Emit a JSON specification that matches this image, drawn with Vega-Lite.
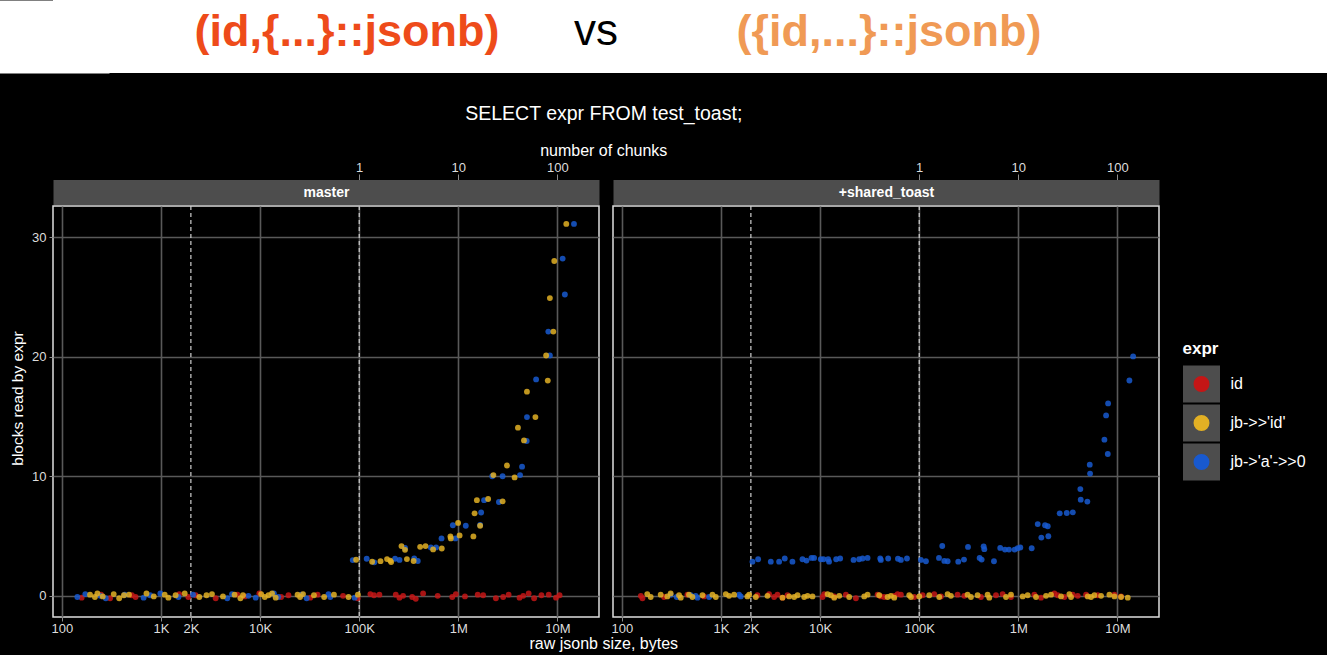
{
  "$schema": "https://vega.github.io/schema/vega-lite/v6.json",
  "background": "black",
  "padding": {"left": 9, "top": 0, "right": 10, "bottom": 10},
  "config": {
    "font": "Liberation Sans",
    "view": {"stroke": "#dedede", "strokeWidth": 1.5},
    "axis": {"labelColor": "#dddddd", "titleColor": "white", "labelFontSize": 13, "titleFontWeight": "normal", "titleFontSize": 16, "gridColor": "#595959", "gridWidth": 1.6, "tickColor": "#8c8c8c", "domain": false}
  },
  "datasets": {
    "pts": [
      {"panel":"master","expr":"id","bytes":158,"blocks":-0.15},{"panel":"master","expr":"id","bytes":248,"blocks":0.1},{"panel":"master","expr":"id","bytes":306,"blocks":-0.2},{"panel":"master","expr":"id","bytes":508,"blocks":0.05},{"panel":"master","expr":"id","bytes":553,"blocks":-0.1},{"panel":"master","expr":"id","bytes":1527,"blocks":0.15},{"panel":"master","expr":"id","bytes":1887,"blocks":-0.1},{"panel":"master","expr":"id","bytes":2236,"blocks":0.05},{"panel":"master","expr":"id","bytes":3559,"blocks":-0.2},{"panel":"master","expr":"id","bytes":5906,"blocks":0.1},{"panel":"master","expr":"id","bytes":6998,"blocks":-0.05},{"panel":"master","expr":"id","bytes":9817,"blocks":0.2},{"panel":"master","expr":"id","bytes":16300,"blocks":-0.1},{"panel":"master","expr":"id","bytes":19320,"blocks":0.05},{"panel":"master","expr":"id","bytes":32060,"blocks":-0.15},{"panel":"master","expr":"id","bytes":38020,"blocks":0.1},{"panel":"master","expr":"id","bytes":68700,"blocks":0.0},{"panel":"master","expr":"id","bytes":96400,"blocks":-0.2},{"panel":"master","expr":"id","bytes":129500,"blocks":0.15},{"panel":"master","expr":"id","bytes":140900,"blocks":0.05},{"panel":"master","expr":"id","bytes":159900,"blocks":0.1},{"panel":"master","expr":"id","bytes":233900,"blocks":0.1},{"panel":"master","expr":"id","bytes":254600,"blocks":-0.15},{"panel":"master","expr":"id","bytes":277300,"blocks":0.0},{"panel":"master","expr":"id","bytes":342600,"blocks":-0.1},{"panel":"master","expr":"id","bytes":372400,"blocks":-0.25},{"panel":"master","expr":"id","bytes":441300,"blocks":0.2},{"panel":"master","expr":"id","bytes":619400,"blocks":0.0},{"panel":"master","expr":"id","bytes":868800,"blocks":-0.1},{"panel":"master","expr":"id","bytes":944800,"blocks":0.15},{"panel":"master","expr":"id","bytes":1167000,"blocks":-0.05},{"panel":"master","expr":"id","bytes":1570000,"blocks":0.1},{"panel":"master","expr":"id","bytes":1782000,"blocks":0.05},{"panel":"master","expr":"id","bytes":2395000,"blocks":-0.2},{"panel":"master","expr":"id","bytes":2836000,"blocks":-0.1},{"panel":"master","expr":"id","bytes":3221000,"blocks":0.1},{"panel":"master","expr":"id","bytes":4150000,"blocks":-0.15},{"panel":"master","expr":"id","bytes":4519000,"blocks":0.0},{"panel":"master","expr":"id","bytes":5129000,"blocks":0.2},{"panel":"master","expr":"id","bytes":5823000,"blocks":-0.2},{"panel":"master","expr":"id","bytes":6902000,"blocks":0.05},{"panel":"master","expr":"id","bytes":8170000,"blocks":0.1},{"panel":"master","expr":"id","bytes":9683000,"blocks":-0.15},{"panel":"master","expr":"id","bytes":10520000,"blocks":0.05},
      {"panel":"+shared_toast","expr":"id","bytes":155,"blocks":0.0},{"panel":"+shared_toast","expr":"id","bytes":161,"blocks":-0.2},{"panel":"+shared_toast","expr":"id","bytes":266,"blocks":-0.1},{"panel":"+shared_toast","expr":"id","bytes":458,"blocks":0.1},{"panel":"+shared_toast","expr":"id","bytes":674,"blocks":-0.05},{"panel":"+shared_toast","expr":"id","bytes":2328,"blocks":0.05},{"panel":"+shared_toast","expr":"id","bytes":3055,"blocks":0.15},{"panel":"+shared_toast","expr":"id","bytes":3433,"blocks":-0.1},{"panel":"+shared_toast","expr":"id","bytes":3710,"blocks":0.1},{"panel":"+shared_toast","expr":"id","bytes":4169,"blocks":-0.15},{"panel":"+shared_toast","expr":"id","bytes":4688,"blocks":0.05},{"panel":"+shared_toast","expr":"id","bytes":10570,"blocks":-0.1},{"panel":"+shared_toast","expr":"id","bytes":10990,"blocks":0.15},{"panel":"+shared_toast","expr":"id","bytes":13870,"blocks":-0.05},{"panel":"+shared_toast","expr":"id","bytes":18200,"blocks":0.1},{"panel":"+shared_toast","expr":"id","bytes":22960,"blocks":-0.2},{"panel":"+shared_toast","expr":"id","bytes":38010,"blocks":0.1},{"panel":"+shared_toast","expr":"id","bytes":41020,"blocks":-0.05},{"panel":"+shared_toast","expr":"id","bytes":44370,"blocks":-0.1},{"panel":"+shared_toast","expr":"id","bytes":55980,"blocks":0.0},{"panel":"+shared_toast","expr":"id","bytes":60480,"blocks":0.15},{"panel":"+shared_toast","expr":"id","bytes":65350,"blocks":0.1},{"panel":"+shared_toast","expr":"id","bytes":89100,"blocks":-0.1},{"panel":"+shared_toast","expr":"id","bytes":108100,"blocks":0.05},{"panel":"+shared_toast","expr":"id","bytes":141800,"blocks":0.15},{"panel":"+shared_toast","expr":"id","bytes":165600,"blocks":-0.05},{"panel":"+shared_toast","expr":"id","bytes":243900,"blocks":0.1},{"panel":"+shared_toast","expr":"id","bytes":285000,"blocks":0.0},{"panel":"+shared_toast","expr":"id","bytes":419900,"blocks":-0.1},{"panel":"+shared_toast","expr":"id","bytes":595500,"blocks":0.05},{"panel":"+shared_toast","expr":"id","bytes":695000,"blocks":0.15},{"panel":"+shared_toast","expr":"id","bytes":843700,"blocks":-0.1},{"panel":"+shared_toast","expr":"id","bytes":1452000,"blocks":0.1},{"panel":"+shared_toast","expr":"id","bytes":1694000,"blocks":-0.15},{"panel":"+shared_toast","expr":"id","bytes":2312000,"blocks":0.2},{"panel":"+shared_toast","expr":"id","bytes":2499000,"blocks":0.05},{"panel":"+shared_toast","expr":"id","bytes":2917000,"blocks":-0.1},{"panel":"+shared_toast","expr":"id","bytes":3541000,"blocks":0.1},{"panel":"+shared_toast","expr":"id","bytes":3981000,"blocks":0.0},{"panel":"+shared_toast","expr":"id","bytes":4831000,"blocks":0.1},{"panel":"+shared_toast","expr":"id","bytes":6339000,"blocks":0.05},{"panel":"+shared_toast","expr":"id","bytes":9333000,"blocks":0.1},{"panel":"+shared_toast","expr":"id","bytes":10890000,"blocks":-0.05},
      {"panel":"master","expr":"jb->'a'->>0","bytes":143,"blocks":-0.1},{"panel":"master","expr":"jb->'a'->>0","bytes":172,"blocks":0.15},{"panel":"master","expr":"jb->'a'->>0","bytes":244,"blocks":0.0},{"panel":"master","expr":"jb->'a'->>0","bytes":277,"blocks":-0.2},{"panel":"master","expr":"jb->'a'->>0","bytes":430,"blocks":0.1},{"panel":"master","expr":"jb->'a'->>0","bytes":667,"blocks":-0.15},{"panel":"master","expr":"jb->'a'->>0","bytes":776,"blocks":0.05},{"panel":"master","expr":"jb->'a'->>0","bytes":984,"blocks":0.2},{"panel":"master","expr":"jb->'a'->>0","bytes":1500,"blocks":-0.1},{"panel":"master","expr":"jb->'a'->>0","bytes":2104,"blocks":0.1},{"panel":"master","expr":"jb->'a'->>0","bytes":4660,"blocks":-0.2},{"panel":"master","expr":"jb->'a'->>0","bytes":5200,"blocks":0.15},{"panel":"master","expr":"jb->'a'->>0","bytes":7620,"blocks":0.0},{"panel":"master","expr":"jb->'a'->>0","bytes":9020,"blocks":-0.15},{"panel":"master","expr":"jb->'a'->>0","bytes":13770,"blocks":0.2},{"panel":"master","expr":"jb->'a'->>0","bytes":15240,"blocks":-0.1},{"panel":"master","expr":"jb->'a'->>0","bytes":25960,"blocks":0.1},{"panel":"master","expr":"jb->'a'->>0","bytes":29470,"blocks":-0.2},{"panel":"master","expr":"jb->'a'->>0","bytes":48970,"blocks":0.15},{"panel":"master","expr":"jb->'a'->>0","bytes":51050,"blocks":-0.1},{"panel":"master","expr":"jb->'a'->>0","bytes":89950,"blocks":-0.15},
      {"panel":"master","expr":"jb->'a'->>0","bytes":86000,"blocks":2.99},{"panel":"master","expr":"jb->'a'->>0","bytes":119000,"blocks":3.1},{"panel":"master","expr":"jb->'a'->>0","bytes":142000,"blocks":2.8},{"panel":"master","expr":"jb->'a'->>0","bytes":230000,"blocks":3.1},{"panel":"master","expr":"jb->'a'->>0","bytes":255000,"blocks":3.0},{"panel":"master","expr":"jb->'a'->>0","bytes":290000,"blocks":4.0},{"panel":"master","expr":"jb->'a'->>0","bytes":359000,"blocks":3.13},{"panel":"master","expr":"jb->'a'->>0","bytes":390000,"blocks":2.91},{"panel":"master","expr":"jb->'a'->>0","bytes":528000,"blocks":4.05},{"panel":"master","expr":"jb->'a'->>0","bytes":597000,"blocks":4.05},{"panel":"master","expr":"jb->'a'->>0","bytes":677000,"blocks":4.8},{"panel":"master","expr":"jb->'a'->>0","bytes":881000,"blocks":5.9},{"panel":"master","expr":"jb->'a'->>0","bytes":935000,"blocks":4.8},{"panel":"master","expr":"jb->'a'->>0","bytes":1190000,"blocks":5.86},{"panel":"master","expr":"jb->'a'->>0","bytes":1660000,"blocks":5.93},{"panel":"master","expr":"jb->'a'->>0","bytes":1700000,"blocks":6.97},{"panel":"master","expr":"jb->'a'->>0","bytes":1820000,"blocks":8.0},{"panel":"master","expr":"jb->'a'->>0","bytes":2200000,"blocks":10.0},{"panel":"master","expr":"jb->'a'->>0","bytes":2570000,"blocks":7.85},{"panel":"master","expr":"jb->'a'->>0","bytes":2800000,"blocks":10.0},{"panel":"master","expr":"jb->'a'->>0","bytes":4200000,"blocks":10.1},{"panel":"master","expr":"jb->'a'->>0","bytes":4400000,"blocks":10.8},{"panel":"master","expr":"jb->'a'->>0","bytes":4900000,"blocks":12.95},{"panel":"master","expr":"jb->'a'->>0","bytes":4930000,"blocks":14.95},{"panel":"master","expr":"jb->'a'->>0","bytes":6100000,"blocks":18.1},{"panel":"master","expr":"jb->'a'->>0","bytes":8100000,"blocks":22.1},{"panel":"master","expr":"jb->'a'->>0","bytes":8400000,"blocks":20.1},{"panel":"master","expr":"jb->'a'->>0","bytes":11300000,"blocks":28.2},{"panel":"master","expr":"jb->'a'->>0","bytes":11900000,"blocks":25.2},{"panel":"master","expr":"jb->'a'->>0","bytes":14700000,"blocks":31.1},
      {"panel":"+shared_toast","expr":"jb->'a'->>0","bytes":310,"blocks":0.1},{"panel":"+shared_toast","expr":"jb->'a'->>0","bytes":357,"blocks":-0.1},{"panel":"+shared_toast","expr":"jb->'a'->>0","bytes":494,"blocks":0.05},{"panel":"+shared_toast","expr":"jb->'a'->>0","bytes":555,"blocks":0.0},{"panel":"+shared_toast","expr":"jb->'a'->>0","bytes":578,"blocks":-0.15},{"panel":"+shared_toast","expr":"jb->'a'->>0","bytes":757,"blocks":-0.1},{"panel":"+shared_toast","expr":"jb->'a'->>0","bytes":1520,"blocks":0.1},{"panel":"+shared_toast","expr":"jb->'a'->>0","bytes":1580,"blocks":-0.05},
      {"panel":"+shared_toast","expr":"jb->'a'->>0","bytes":2075,"blocks":2.86},{"panel":"+shared_toast","expr":"jb->'a'->>0","bytes":2366,"blocks":3.06},{"panel":"+shared_toast","expr":"jb->'a'->>0","bytes":3177,"blocks":2.86},{"panel":"+shared_toast","expr":"jb->'a'->>0","bytes":3855,"blocks":2.86},{"panel":"+shared_toast","expr":"jb->'a'->>0","bytes":4395,"blocks":3.12},{"panel":"+shared_toast","expr":"jb->'a'->>0","bytes":5255,"blocks":2.86},{"panel":"+shared_toast","expr":"jb->'a'->>0","bytes":6637,"blocks":3.06},{"panel":"+shared_toast","expr":"jb->'a'->>0","bytes":7280,"blocks":2.95},{"panel":"+shared_toast","expr":"jb->'a'->>0","bytes":8180,"blocks":3.17},{"panel":"+shared_toast","expr":"jb->'a'->>0","bytes":8690,"blocks":3.17},{"panel":"+shared_toast","expr":"jb->'a'->>0","bytes":10160,"blocks":3.06},{"panel":"+shared_toast","expr":"jb->'a'->>0","bytes":10810,"blocks":3.06},{"panel":"+shared_toast","expr":"jb->'a'->>0","bytes":12050,"blocks":3.06},{"panel":"+shared_toast","expr":"jb->'a'->>0","bytes":12300,"blocks":2.86},{"panel":"+shared_toast","expr":"jb->'a'->>0","bytes":14520,"blocks":3.06},{"panel":"+shared_toast","expr":"jb->'a'->>0","bytes":15930,"blocks":3.12},{"panel":"+shared_toast","expr":"jb->'a'->>0","bytes":21740,"blocks":3.0},{"panel":"+shared_toast","expr":"jb->'a'->>0","bytes":24770,"blocks":3.06},{"panel":"+shared_toast","expr":"jb->'a'->>0","bytes":26790,"blocks":3.12},{"panel":"+shared_toast","expr":"jb->'a'->>0","bytes":30110,"blocks":3.17},{"panel":"+shared_toast","expr":"jb->'a'->>0","bytes":40400,"blocks":3.12},{"panel":"+shared_toast","expr":"jb->'a'->>0","bytes":41000,"blocks":3.0},{"panel":"+shared_toast","expr":"jb->'a'->>0","bytes":48600,"blocks":3.12},{"panel":"+shared_toast","expr":"jb->'a'->>0","bytes":61000,"blocks":3.1},{"panel":"+shared_toast","expr":"jb->'a'->>0","bytes":65300,"blocks":3.0},{"panel":"+shared_toast","expr":"jb->'a'->>0","bytes":75200,"blocks":3.12},{"panel":"+shared_toast","expr":"jb->'a'->>0","bytes":104000,"blocks":3.0},{"panel":"+shared_toast","expr":"jb->'a'->>0","bytes":116900,"blocks":2.89},{"panel":"+shared_toast","expr":"jb->'a'->>0","bytes":158200,"blocks":3.17},{"panel":"+shared_toast","expr":"jb->'a'->>0","bytes":170800,"blocks":4.17},{"panel":"+shared_toast","expr":"jb->'a'->>0","bytes":179000,"blocks":2.92},{"panel":"+shared_toast","expr":"jb->'a'->>0","bytes":193600,"blocks":2.89},{"panel":"+shared_toast","expr":"jb->'a'->>0","bytes":247700,"blocks":2.86},{"panel":"+shared_toast","expr":"jb->'a'->>0","bytes":283100,"blocks":3.03},{"panel":"+shared_toast","expr":"jb->'a'->>0","bytes":310700,"blocks":4.09},{"panel":"+shared_toast","expr":"jb->'a'->>0","bytes":407000,"blocks":3.17},{"panel":"+shared_toast","expr":"jb->'a'->>0","bytes":426700,"blocks":3.03},{"panel":"+shared_toast","expr":"jb->'a'->>0","bytes":446900,"blocks":4.14},{"panel":"+shared_toast","expr":"jb->'a'->>0","bytes":453900,"blocks":3.9},{"panel":"+shared_toast","expr":"jb->'a'->>0","bytes":568000,"blocks":2.89},{"panel":"+shared_toast","expr":"jb->'a'->>0","bytes":657000,"blocks":4.01},{"panel":"+shared_toast","expr":"jb->'a'->>0","bytes":734000,"blocks":3.87},{"panel":"+shared_toast","expr":"jb->'a'->>0","bytes":805000,"blocks":3.87},{"panel":"+shared_toast","expr":"jb->'a'->>0","bytes":918000,"blocks":3.87},{"panel":"+shared_toast","expr":"jb->'a'->>0","bytes":986000,"blocks":3.98},{"panel":"+shared_toast","expr":"jb->'a'->>0","bytes":1048000,"blocks":4.04},{"panel":"+shared_toast","expr":"jb->'a'->>0","bytes":1365000,"blocks":3.98},{"panel":"+shared_toast","expr":"jb->'a'->>0","bytes":1570000,"blocks":6.0},{"panel":"+shared_toast","expr":"jb->'a'->>0","bytes":1708000,"blocks":4.87},{"panel":"+shared_toast","expr":"jb->'a'->>0","bytes":1862000,"blocks":5.9},{"panel":"+shared_toast","expr":"jb->'a'->>0","bytes":1982000,"blocks":5.82},{"panel":"+shared_toast","expr":"jb->'a'->>0","bytes":2010000,"blocks":4.98},{"panel":"+shared_toast","expr":"jb->'a'->>0","bytes":2618000,"blocks":6.9},{"panel":"+shared_toast","expr":"jb->'a'->>0","bytes":3083000,"blocks":6.93},{"panel":"+shared_toast","expr":"jb->'a'->>0","bytes":3548000,"blocks":6.98},{"panel":"+shared_toast","expr":"jb->'a'->>0","bytes":4228000,"blocks":8.93},{"panel":"+shared_toast","expr":"jb->'a'->>0","bytes":4266000,"blocks":8.04},{"panel":"+shared_toast","expr":"jb->'a'->>0","bytes":4976000,"blocks":7.88},{"panel":"+shared_toast","expr":"jb->'a'->>0","bytes":5260000,"blocks":10.97},{"panel":"+shared_toast","expr":"jb->'a'->>0","bytes":5300000,"blocks":10.22},{"panel":"+shared_toast","expr":"jb->'a'->>0","bytes":7396000,"blocks":13.06},{"panel":"+shared_toast","expr":"jb->'a'->>0","bytes":7690000,"blocks":15.09},{"panel":"+shared_toast","expr":"jb->'a'->>0","bytes":8000000,"blocks":11.86},{"panel":"+shared_toast","expr":"jb->'a'->>0","bytes":8060000,"blocks":16.09},{"panel":"+shared_toast","expr":"jb->'a'->>0","bytes":13220000,"blocks":18.01},{"panel":"+shared_toast","expr":"jb->'a'->>0","bytes":14420000,"blocks":20.02},
      {"panel":"master","expr":"jb->>'id'","bytes":192,"blocks":0.1},{"panel":"master","expr":"jb->>'id'","bytes":215,"blocks":-0.1},{"panel":"master","expr":"jb->>'id'","bytes":228,"blocks":0.2},{"panel":"master","expr":"jb->>'id'","bytes":258,"blocks":-0.05},{"panel":"master","expr":"jb->>'id'","bytes":333,"blocks":0.15},{"panel":"master","expr":"jb->>'id'","bytes":378,"blocks":-0.2},{"panel":"master","expr":"jb->>'id'","bytes":422,"blocks":0.05},{"panel":"master","expr":"jb->>'id'","bytes":475,"blocks":0.1},{"panel":"master","expr":"jb->>'id'","bytes":713,"blocks":0.2},{"panel":"master","expr":"jb->>'id'","bytes":845,"blocks":-0.05},{"panel":"master","expr":"jb->>'id'","bytes":1089,"blocks":0.1},{"panel":"master","expr":"jb->>'id'","bytes":1186,"blocks":-0.15},{"panel":"master","expr":"jb->>'id'","bytes":1403,"blocks":0.05},{"panel":"master","expr":"jb->>'id'","bytes":1734,"blocks":0.2},{"panel":"master","expr":"jb->>'id'","bytes":2432,"blocks":-0.1},{"panel":"master","expr":"jb->>'id'","bytes":2877,"blocks":0.05},{"panel":"master","expr":"jb->>'id'","bytes":3266,"blocks":0.15},{"panel":"master","expr":"jb->>'id'","bytes":4217,"blocks":-0.05},{"panel":"master","expr":"jb->>'id'","bytes":5521,"blocks":0.1},{"panel":"master","expr":"jb->>'id'","bytes":6324,"blocks":-0.2},{"panel":"master","expr":"jb->>'id'","bytes":6714,"blocks":0.05},{"panel":"master","expr":"jb->>'id'","bytes":10240,"blocks":0.15},{"panel":"master","expr":"jb->>'id'","bytes":11140,"blocks":-0.1},{"panel":"master","expr":"jb->>'id'","bytes":12130,"blocks":0.05},{"panel":"master","expr":"jb->>'id'","bytes":13190,"blocks":0.2},{"panel":"master","expr":"jb->>'id'","bytes":14360,"blocks":-0.15},{"panel":"master","expr":"jb->>'id'","bytes":23860,"blocks":0.1},{"panel":"master","expr":"jb->>'id'","bytes":25300,"blocks":-0.1},{"panel":"master","expr":"jb->>'id'","bytes":27100,"blocks":0.15},{"panel":"master","expr":"jb->>'id'","bytes":34910,"blocks":0.05},{"panel":"master","expr":"jb->>'id'","bytes":44260,"blocks":-0.1},{"panel":"master","expr":"jb->>'id'","bytes":55600,"blocks":0.1},{"panel":"master","expr":"jb->>'id'","bytes":77980,"blocks":-0.1},{"panel":"master","expr":"jb->>'id'","bytes":97000,"blocks":0.1},
      {"panel":"master","expr":"jb->>'id'","bytes":93000,"blocks":3.02},{"panel":"master","expr":"jb->>'id'","bytes":135000,"blocks":2.85},{"panel":"master","expr":"jb->>'id'","bytes":164000,"blocks":2.9},{"panel":"master","expr":"jb->>'id'","bytes":191000,"blocks":3.07},{"panel":"master","expr":"jb->>'id'","bytes":206000,"blocks":2.95},{"panel":"master","expr":"jb->>'id'","bytes":210000,"blocks":2.82},{"panel":"master","expr":"jb->>'id'","bytes":267000,"blocks":4.16},{"panel":"master","expr":"jb->>'id'","bytes":290000,"blocks":3.85},{"panel":"master","expr":"jb->>'id'","bytes":303000,"blocks":3.07},{"panel":"master","expr":"jb->>'id'","bytes":354000,"blocks":2.91},{"panel":"master","expr":"jb->>'id'","bytes":412000,"blocks":4.1},{"panel":"master","expr":"jb->>'id'","bytes":467000,"blocks":4.16},{"panel":"master","expr":"jb->>'id'","bytes":557000,"blocks":3.88},{"panel":"master","expr":"jb->>'id'","bytes":681000,"blocks":3.96},{"panel":"master","expr":"jb->>'id'","bytes":833000,"blocks":4.97},{"panel":"master","expr":"jb->>'id'","bytes":840000,"blocks":4.8},{"panel":"master","expr":"jb->>'id'","bytes":995000,"blocks":6.1},{"panel":"master","expr":"jb->>'id'","bytes":1030000,"blocks":5.05},{"panel":"master","expr":"jb->>'id'","bytes":1420000,"blocks":4.97},{"panel":"master","expr":"jb->>'id'","bytes":1460000,"blocks":6.9},{"panel":"master","expr":"jb->>'id'","bytes":1540000,"blocks":8.0},{"panel":"master","expr":"jb->>'id'","bytes":1660000,"blocks":5.86},{"panel":"master","expr":"jb->>'id'","bytes":2000000,"blocks":8.1},{"panel":"master","expr":"jb->>'id'","bytes":2260000,"blocks":10.1},{"panel":"master","expr":"jb->>'id'","bytes":2800000,"blocks":7.9},{"panel":"master","expr":"jb->>'id'","bytes":3100000,"blocks":10.9},{"panel":"master","expr":"jb->>'id'","bytes":3700000,"blocks":9.9},{"panel":"master","expr":"jb->>'id'","bytes":4000000,"blocks":14.06},{"panel":"master","expr":"jb->>'id'","bytes":4600000,"blocks":13.0},{"panel":"master","expr":"jb->>'id'","bytes":4930000,"blocks":17.07},{"panel":"master","expr":"jb->>'id'","bytes":6000000,"blocks":14.95},{"panel":"master","expr":"jb->>'id'","bytes":7700000,"blocks":20.1},{"panel":"master","expr":"jb->>'id'","bytes":8000000,"blocks":18.0},{"panel":"master","expr":"jb->>'id'","bytes":8400000,"blocks":24.9},{"panel":"master","expr":"jb->>'id'","bytes":9100000,"blocks":22.1},{"panel":"master","expr":"jb->>'id'","bytes":9300000,"blocks":28.0},{"panel":"master","expr":"jb->>'id'","bytes":12300000,"blocks":31.1},
      {"panel":"+shared_toast","expr":"jb->>'id'","bytes":180,"blocks":0.15},{"panel":"+shared_toast","expr":"jb->>'id'","bytes":195,"blocks":-0.1},{"panel":"+shared_toast","expr":"jb->>'id'","bytes":246,"blocks":0.1},{"panel":"+shared_toast","expr":"jb->>'id'","bytes":287,"blocks":-0.05},{"panel":"+shared_toast","expr":"jb->>'id'","bytes":310,"blocks":0.2},{"panel":"+shared_toast","expr":"jb->>'id'","bytes":377,"blocks":0.05},{"panel":"+shared_toast","expr":"jb->>'id'","bytes":392,"blocks":-0.15},{"panel":"+shared_toast","expr":"jb->>'id'","bytes":475,"blocks":0.1},{"panel":"+shared_toast","expr":"jb->>'id'","bytes":514,"blocks":-0.1},{"panel":"+shared_toast","expr":"jb->>'id'","bytes":649,"blocks":0.05},{"panel":"+shared_toast","expr":"jb->>'id'","bytes":819,"blocks":0.1},{"panel":"+shared_toast","expr":"jb->>'id'","bytes":885,"blocks":-0.1},{"panel":"+shared_toast","expr":"jb->>'id'","bytes":1117,"blocks":0.15},{"panel":"+shared_toast","expr":"jb->>'id'","bytes":1206,"blocks":0.0},{"panel":"+shared_toast","expr":"jb->>'id'","bytes":1355,"blocks":0.1},{"panel":"+shared_toast","expr":"jb->>'id'","bytes":1847,"blocks":-0.05},{"panel":"+shared_toast","expr":"jb->>'id'","bytes":1919,"blocks":0.1},{"panel":"+shared_toast","expr":"jb->>'id'","bytes":2244,"blocks":-0.1},{"panel":"+shared_toast","expr":"jb->>'id'","bytes":2941,"blocks":0.0},{"panel":"+shared_toast","expr":"jb->>'id'","bytes":4169,"blocks":-0.15},{"panel":"+shared_toast","expr":"jb->>'id'","bytes":4868,"blocks":-0.05},{"panel":"+shared_toast","expr":"jb->>'id'","bytes":5470,"blocks":-0.1},{"panel":"+shared_toast","expr":"jb->>'id'","bytes":5916,"blocks":0.05},{"panel":"+shared_toast","expr":"jb->>'id'","bytes":6906,"blocks":-0.1},{"panel":"+shared_toast","expr":"jb->>'id'","bytes":7467,"blocks":0.0},{"panel":"+shared_toast","expr":"jb->>'id'","bytes":8380,"blocks":-0.05},{"panel":"+shared_toast","expr":"jb->>'id'","bytes":11880,"blocks":0.15},{"panel":"+shared_toast","expr":"jb->>'id'","bytes":12830,"blocks":0.05},{"panel":"+shared_toast","expr":"jb->>'id'","bytes":13870,"blocks":-0.15},{"panel":"+shared_toast","expr":"jb->>'id'","bytes":15590,"blocks":0.0},{"panel":"+shared_toast","expr":"jb->>'id'","bytes":19650,"blocks":-0.1},{"panel":"+shared_toast","expr":"jb->>'id'","bytes":27860,"blocks":-0.05},{"panel":"+shared_toast","expr":"jb->>'id'","bytes":30130,"blocks":0.1},{"panel":"+shared_toast","expr":"jb->>'id'","bytes":39460,"blocks":0.05},{"panel":"+shared_toast","expr":"jb->>'id'","bytes":47940,"blocks":-0.1},{"panel":"+shared_toast","expr":"jb->>'id'","bytes":51790,"blocks":0.0},{"panel":"+shared_toast","expr":"jb->>'id'","bytes":55960,"blocks":-0.15},{"panel":"+shared_toast","expr":"jb->>'id'","bytes":79290,"blocks":0.05},{"panel":"+shared_toast","expr":"jb->>'id'","bytes":82450,"blocks":-0.1},{"panel":"+shared_toast","expr":"jb->>'id'","bytes":100100,"blocks":-0.05},{"panel":"+shared_toast","expr":"jb->>'id'","bytes":126200,"blocks":0.05},{"panel":"+shared_toast","expr":"jb->>'id'","bytes":159300,"blocks":-0.1},{"panel":"+shared_toast","expr":"jb->>'id'","bytes":193300,"blocks":0.15},{"panel":"+shared_toast","expr":"jb->>'id'","bytes":208900,"blocks":0.0},{"panel":"+shared_toast","expr":"jb->>'id'","bytes":307700,"blocks":0.1},{"panel":"+shared_toast","expr":"jb->>'id'","bytes":332600,"blocks":-0.1},{"panel":"+shared_toast","expr":"jb->>'id'","bytes":388200,"blocks":0.05},{"panel":"+shared_toast","expr":"jb->>'id'","bytes":490000,"blocks":0.1},{"panel":"+shared_toast","expr":"jb->>'id'","bytes":509400,"blocks":-0.15},{"panel":"+shared_toast","expr":"jb->>'id'","bytes":751300,"blocks":-0.1},{"panel":"+shared_toast","expr":"jb->>'id'","bytes":843700,"blocks":0.1},{"panel":"+shared_toast","expr":"jb->>'id'","bytes":1107000,"blocks":-0.05},{"panel":"+shared_toast","expr":"jb->>'id'","bytes":1243000,"blocks":0.05},{"panel":"+shared_toast","expr":"jb->>'id'","bytes":1509000,"blocks":-0.1},{"panel":"+shared_toast","expr":"jb->>'id'","bytes":1905000,"blocks":0.0},{"panel":"+shared_toast","expr":"jb->>'id'","bytes":2139000,"blocks":0.1},{"panel":"+shared_toast","expr":"jb->>'id'","bytes":2700000,"blocks":-0.05},{"panel":"+shared_toast","expr":"jb->>'id'","bytes":3275000,"blocks":0.15},{"panel":"+shared_toast","expr":"jb->>'id'","bytes":3405000,"blocks":-0.1},{"panel":"+shared_toast","expr":"jb->>'id'","bytes":5020000,"blocks":-0.05},{"panel":"+shared_toast","expr":"jb->>'id'","bytes":5425000,"blocks":-0.1},{"panel":"+shared_toast","expr":"jb->>'id'","bytes":5860000,"blocks":0.05},{"panel":"+shared_toast","expr":"jb->>'id'","bytes":6845000,"blocks":0.0},{"panel":"+shared_toast","expr":"jb->>'id'","bytes":8305000,"blocks":0.1},{"panel":"+shared_toast","expr":"jb->>'id'","bytes":9333000,"blocks":-0.05},{"panel":"+shared_toast","expr":"jb->>'id'","bytes":10890000,"blocks":-0.1},{"panel":"+shared_toast","expr":"jb->>'id'","bytes":12730000,"blocks":-0.15}
    ]
  },
  "spacing": 30,
  "vconcat": [
    {
      "width": 1275,
      "height": 73,
      "view": {"fill": "white", "stroke": null},
      "data": {"values": [
        {"part": "a", "label": "(id,{...}::jsonb)", "band": "h"},
        {"part": "vs", "label": "vs", "band": "h"},
        {"part": "b", "label": "({id,...}::jsonb)", "band": "h"}
      ]},
      "encoding": {
        "x": {"field": "part", "type": "nominal", "scale": {"type": "point", "domain": ["a", "vs", "b"], "range": [294, 836], "padding": 0}, "axis": null},
        "y": {"field": "band", "type": "nominal", "scale": {"type": "point"}, "axis": {"domain": true, "domainColor": "white", "domainWidth": 112, "ticks": false, "labels": false, "grid": false, "title": null}},
        "text": {"field": "label"}
      },
      "layer": [
        {"transform": [{"filter": "datum.part == 'a'"}], "mark": {"type": "text", "fontSize": 45, "fontWeight": "bold", "color": "#ee4b1a", "baseline": "middle", "dy": -5}},
        {"transform": [{"filter": "datum.part == 'vs'"}], "mark": {"type": "text", "fontSize": 44, "color": "black", "align": "right", "baseline": "middle", "dy": -5}},
        {"transform": [{"filter": "datum.part == 'b'"}], "mark": {"type": "text", "fontSize": 45, "fontWeight": "bold", "color": "#f09a55", "baseline": "middle", "dy": -5}}
      ]
    },
    {
      "spacing": 22,
      "hconcat": [
        {
          "title": {"text": "raw jsonb size, bytes", "orient": "bottom", "anchor": "middle", "dx": 19, "fontSize": 16, "fontWeight": "normal", "color": "white", "offset": 0},
          "vconcat": [
            {
              "title": {"text": "SELECT expr FROM test_toast;", "subtitle": "number of chunks", "anchor": "middle", "dx": 19, "fontSize": 19.5, "fontWeight": "normal", "color": "white", "subtitleFontSize": 16, "subtitleColor": "white", "subtitlePadding": 19, "offset": 0},
              "spacing": 10,
              "hconcat": [
                {
                  "width": 546,
                  "height": 411,
                  "layer": [
                    {
                      "data": {"values": [{"bytes": 2000}, {"bytes": 100000}]},
                      "mark": {"type": "rule", "color": "#d0d0d0", "strokeDash": [4, 3], "strokeWidth": 1.2},
                      "encoding": {
                        "x": {"field": "bytes", "type": "quantitative", "scale": {"type": "log", "domain": [81.2, 26300000], "nice": false},
                          "axis": {"orient": "top", "values": [100000, 1000000, 10000000], "labelExpr": "'' + round(datum.value / 100000)", "offset": 14, "domain": true, "domainColor": "#4d4d4d", "domainWidth": 25, "domainCap": "butt", "ticks": true, "tickSize": 18, "tickColor": "#8c8c8c", "tickWidth": 1, "labelPadding": 0, "labelFlush": false, "labelOverlap": false, "grid": false, "title": "master", "titleY": 0, "titleBaseline": "middle", "titleColor": "white", "titleFontSize": 14, "titleFontWeight": "bold"}}
                      }
                    },
                    {
                      "data": {"name": "pts"},
                      "transform": [{"filter": "datum.panel == 'master'"}],
                      "mark": {"type": "circle", "size": 34, "opacity": 0.85},
                      "encoding": {
                        "x": {"field": "bytes", "type": "quantitative", "scale": {"type": "log", "domain": [81.2, 26300000], "nice": false},
                          "axis": {"orient": "bottom", "values": [100, 1000, 2000, 10000, 100000, 1000000, 10000000], "labelExpr": "datum.value >= 1000000 ? (datum.value / 1000000) + 'M' : datum.value >= 1000 ? (datum.value / 1000) + 'K' : '' + datum.value", "grid": true, "gridOpacity": {"condition": {"test": "datum.value == 2000", "value": 0}, "value": 1}, "tickSize": 4, "labelPadding": 1, "labelFlush": false, "labelOverlap": false, "title": null}},
                        "y": {"field": "blocks", "type": "quantitative", "scale": {"domain": [-1.77, 32.6], "nice": false, "zero": false},
                          "axis": {"values": [0, 10, 20, 30], "grid": true, "tickSize": 4, "labelPadding": 3, "title": "blocks read by expr", "titlePadding": 6, "titleFontSize": 15.5, "titleY": 192}},
                        "color": {"field": "expr", "type": "nominal", "scale": {"domain": ["id", "jb->>'id'", "jb->'a'->>0"], "range": ["#c41616", "#e2b024", "#1859cf"]}, "legend": null}
                      }
                    }
                  ],
                  "resolve": {"axis": {"x": "independent"}}
                },
                {
                  "width": 546,
                  "height": 411,
                  "layer": [
                    {
                      "data": {"values": [{"bytes": 2000}, {"bytes": 100000}]},
                      "mark": {"type": "rule", "color": "#d0d0d0", "strokeDash": [4, 3], "strokeWidth": 1.2},
                      "encoding": {
                        "x": {"field": "bytes", "type": "quantitative", "scale": {"type": "log", "domain": [81.2, 26300000], "nice": false},
                          "axis": {"orient": "top", "values": [100000, 1000000, 10000000], "labelExpr": "'' + round(datum.value / 100000)", "offset": 14, "domain": true, "domainColor": "#4d4d4d", "domainWidth": 25, "domainCap": "butt", "ticks": true, "tickSize": 18, "tickColor": "#8c8c8c", "tickWidth": 1, "labelPadding": 0, "labelFlush": false, "labelOverlap": false, "grid": false, "title": "+shared_toast", "titleY": 0, "titleBaseline": "middle", "titleColor": "white", "titleFontSize": 14, "titleFontWeight": "bold"}}
                      }
                    },
                    {
                      "data": {"name": "pts"},
                      "transform": [{"filter": "datum.panel == '+shared_toast'"}],
                      "mark": {"type": "circle", "size": 34, "opacity": 0.85},
                      "encoding": {
                        "x": {"field": "bytes", "type": "quantitative", "scale": {"type": "log", "domain": [81.2, 26300000], "nice": false},
                          "axis": {"orient": "bottom", "values": [100, 1000, 2000, 10000, 100000, 1000000, 10000000], "labelExpr": "datum.value >= 1000000 ? (datum.value / 1000000) + 'M' : datum.value >= 1000 ? (datum.value / 1000) + 'K' : '' + datum.value", "grid": true, "gridOpacity": {"condition": {"test": "datum.value == 2000", "value": 0}, "value": 1}, "tickSize": 4, "labelPadding": 1, "labelFlush": false, "labelOverlap": false, "title": null}},
                        "y": {"field": "blocks", "type": "quantitative", "scale": {"domain": [-1.77, 32.6], "nice": false, "zero": false},
                          "axis": {"values": [0, 10, 20, 30], "grid": true, "ticks": false, "labels": false, "title": null}},
                        "color": {"field": "expr", "type": "nominal", "scale": {"domain": ["id", "jb->>'id'", "jb->'a'->>0"], "range": ["#c41616", "#e2b024", "#1859cf"]}, "legend": null}
                      }
                    }
                  ],
                  "resolve": {"axis": {"x": "independent"}}
                }
              ]
            }
          ]
        },
        {
          "width": 37,
          "height": 411,
          "view": {"stroke": null},
          "data": {"values": [
            {"item": "expr", "kind": "head"},
            {"item": "id", "kind": "key"},
            {"item": "jb->>'id'", "kind": "key"},
            {"item": "jb->'a'->>0", "kind": "key"}
          ]},
          "encoding": {
            "y": {"field": "item", "type": "nominal", "scale": {"type": "point", "domain": ["expr", "id", "jb->>'id'", "jb->'a'->>0"], "range": [139, 256], "padding": 0}, "axis": null}
          },
          "layer": [
            {"transform": [{"filter": "datum.kind == 'key'"}], "mark": {"type": "square", "size": 1369, "color": "#4d4d4d", "opacity": 1}},
            {"transform": [{"filter": "datum.kind == 'key'"}], "mark": {"type": "circle", "size": 254, "opacity": 1},
              "encoding": {"color": {"field": "item", "type": "nominal", "scale": {"domain": ["id", "jb->>'id'", "jb->'a'->>0"], "range": ["#c41616", "#e2b024", "#1859cf"]}, "legend": null}}},
            {"transform": [{"filter": "datum.kind == 'key'"}], "mark": {"type": "text", "align": "left", "baseline": "middle", "dx": 29, "fontSize": 16, "color": "white"}, "encoding": {"text": {"field": "item"}}},
            {"transform": [{"filter": "datum.kind == 'head'"}], "mark": {"type": "text", "align": "left", "baseline": "middle", "dx": -19, "dy": 4, "fontSize": 17, "fontWeight": "bold", "color": "white"}, "encoding": {"text": {"field": "item"}}}
          ]
        }
      ]
    }
  ]
}
